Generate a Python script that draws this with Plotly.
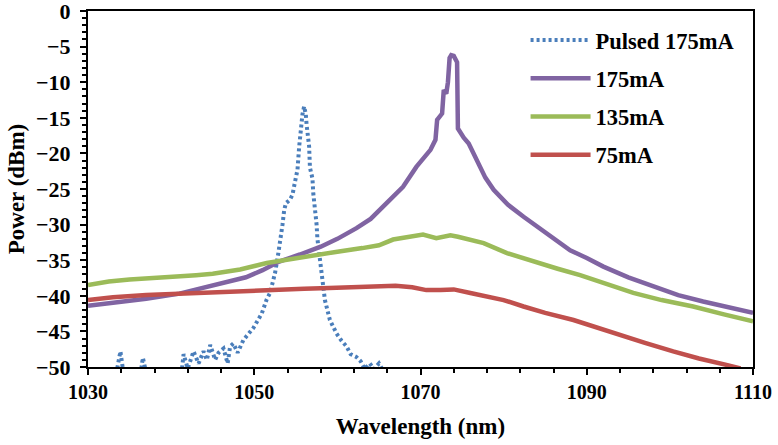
import plotly.graph_objects as go

# ---- data ----
pulsed_x = [1030, 1033.5, 1033.9, 1034.2, 1036.4, 1036.6, 1036.9, 1039, 1041.3, 1041.5, 1042, 1042.7,
            1043.3, 1043.9, 1044.3, 1044.7, 1045.3, 1045.7, 1046.3, 1046.8, 1047.1, 1047.5, 1048.0,
            1048.7, 1049.9, 1050.9, 1051.5, 1051.9, 1052.5, 1052.9, 1053.1, 1053.4, 1053.6, 1053.8,
            1054.3, 1054.6, 1054.9, 1055.2, 1055.4, 1055.6, 1055.8, 1056.0, 1056.2, 1056.3, 1056.6,
            1056.7, 1057.0, 1057.1, 1057.3, 1057.5, 1057.6, 1057.9, 1058.1, 1058.5, 1059.1, 1059.6,
            1059.9, 1060.5, 1061.1, 1061.6, 1062.3, 1062.8, 1063.3, 1063.9, 1064.4, 1065.0, 1065.4]
pulsed_y = [-50.3, -50.3, -47.8, -50.3, -50.3, -48.7, -50.3, -50.3, -50.3, -48.2, -50.2, -47.8,
            -49.5, -47.8, -49.0, -46.9, -49.0, -48.0, -47.4, -49.5, -47.1, -46.7, -48.0,
            -46.2, -44.5, -42.5, -40.5, -39.6, -36.8, -34.0, -32.6, -30.0, -28.0, -27.0,
            -26.5, -25.8, -24.0, -22.3, -19.1, -16.5, -14.5, -13.4, -14.5, -16.0, -19.0,
            -22.0, -23.5, -25.6, -27.5, -30.0, -32.0, -35.0, -37.5, -40.6, -43.4, -44.5,
            -45.3, -46.3, -47.1, -48.2, -48.6, -49.2, -50.3, -49.5, -50.3, -49.5, -50.3]

cw175_x = [1030, 1033, 1037, 1041, 1044, 1047, 1049, 1051, 1053, 1055.5, 1058, 1060, 1062.3, 1064,
           1065.1, 1066.7, 1067.9, 1069.5, 1071.2, 1071.8, 1072.0, 1072.6, 1072.8, 1073.1, 1073.3,
           1073.5, 1073.7, 1074.0, 1074.3, 1074.4, 1074.5, 1075.2, 1075.8, 1076.8, 1077.8, 1078.8,
           1080.5, 1082.4, 1084.4, 1086.4, 1088, 1090, 1092, 1095, 1098, 1101, 1104, 1107, 1110]
cw175_y = [-41.4, -41.0, -40.4, -39.7, -38.8, -38.0, -37.4, -36.4, -35.2, -34.2, -33.1, -32.0, -30.5, -29.2,
           -27.9, -26.2, -24.7, -21.9, -19.5, -18.1, -15.3, -14.4, -11.1, -11.6, -10.0,
           -6.6, -6.2, -6.3, -6.8, -7.2, -16.5, -17.8, -18.6, -21.0, -23.4, -25.1,
           -27.2, -28.9, -30.6, -32.2, -33.6, -34.7, -35.9, -37.4, -38.7, -39.9, -40.8, -41.6, -42.4]

cw135_x = [1030, 1032.5, 1035, 1040, 1043, 1045, 1048.3, 1051.5, 1054, 1057, 1060, 1063, 1065, 1066.7,
           1068.5, 1070.3, 1071.9, 1073.6, 1074.5, 1077.6, 1080.4, 1083.6, 1086.5, 1089.2, 1092.5,
           1095.6, 1099, 1102.8, 1106.5, 1110]
cw135_y = [-38.5, -38.0, -37.7, -37.4, -37.1, -36.9, -36.3, -35.4, -34.9, -34.3, -33.8, -33.3, -32.9, -32.1,
           -31.7, -31.4, -31.9, -31.5, -31.7, -32.6, -34.0, -35.2, -36.2, -37.1, -38.4,
           -39.6, -40.6, -41.5, -42.6, -43.6]

cw75_x = [1030, 1033, 1037, 1041, 1045, 1049, 1053, 1056, 1059, 1062, 1065, 1067, 1069, 1070.7, 1072.4,
          1074, 1076, 1078, 1080, 1082.4, 1085, 1088.4, 1091, 1093.2, 1097, 1100.4, 1103.5, 1106.8, 1108.5]
cw75_y = [-40.6, -40.2, -39.9, -39.7, -39.4, -39.2, -39.1, -39.0, -38.9, -38.8, -38.6, -38.6, -38.8, -39.2, -39.2,
          -39.1, -39.6, -40.1, -40.6, -41.5, -42.4, -43.4, -44.4, -45.3, -46.6, -47.8, -48.8, -49.7, -50.2]

series_names = ["Pulsed 175mA", "175mA", "135mA", "75mA"]
x_ticks = [1030, 1050, 1070, 1090, 1110]
y_ticks = [0, -5, -10, -15, -20, -25, -30, -35, -40, -45, -50]

FONT = "Liberation Serif"

fig = go.Figure()
fig.add_trace(go.Scatter(x=pulsed_x, y=pulsed_y, mode="lines", name=series_names[0], legendgroup="a",
                         line=dict(color="#4a7ebb", width=4, dash="3px,3px")))
fig.add_trace(go.Scatter(x=cw175_x, y=cw175_y, mode="lines", name=series_names[1], legendgroup="b",
                         line=dict(color="#8064a2", width=4.5)))
fig.add_trace(go.Scatter(x=cw135_x, y=cw135_y, mode="lines", name=series_names[2], legendgroup="c",
                         line=dict(color="#9bbb59", width=4.5)))
fig.add_trace(go.Scatter(x=cw75_x, y=cw75_y, mode="lines", name=series_names[3], legendgroup="d",
                         line=dict(color="#c0504d", width=4.5)))

fig.update_layout(
    width=778, height=445,
    margin=dict(l=88, r=25, t=11, b=78, autoexpand=False),
    paper_bgcolor="white", plot_bgcolor="white",
    font=dict(family=FONT, size=17, color="black"),
    showlegend=True,
    legend=dict(x=0.658, y=0.978, xanchor="left", yanchor="top",
                font=dict(family=FONT, size=22.5, color="black", weight="bold"),
                tracegroupgap=6, itemwidth=60, bgcolor="rgba(0,0,0,0)",
                traceorder="grouped"),
    xaxis=dict(range=[1030, 1110], tickvals=x_ticks, ticktext=[str(v) for v in x_ticks],
               automargin=False, ticklabeloverflow="allow",
               showgrid=False, zeroline=False, showline=True, linecolor="black", linewidth=2,
               mirror=True, ticks="outside", ticklen=6, tickwidth=2, tickcolor="black",
               minor=dict(dtick=4, tick0=1030, ticks="outside", ticklen=4, tickwidth=1.5, tickcolor="black"),
               tickfont=dict(family=FONT, size=20, weight="bold"),
               title=dict(text="Wavelength (nm)", font=dict(family=FONT, size=23, weight="bold"), standoff=16)),
    yaxis=dict(range=[-50, 0], tickvals=y_ticks, ticktext=[str(v).replace("-", "\u2212") for v in y_ticks],
               automargin=False, ticklabeloverflow="allow", ticklabelstandoff=5,
               showgrid=False, zeroline=False, showline=True, linecolor="black", linewidth=2,
               mirror=True, ticks="outside", ticklen=6, tickwidth=2, tickcolor="black",
               minor=dict(dtick=1, ticks="outside", ticklen=4, tickwidth=1.5, tickcolor="black"),
               tickfont=dict(family=FONT, size=22, weight="bold"),
               title=dict(text="Power (dBm)", font=dict(family=FONT, size=23, weight="bold"), standoff=5)),
)

fig.write_html("out.html", config={"displayModeBar": False},
               post_script="document.body.style.margin='0';")
